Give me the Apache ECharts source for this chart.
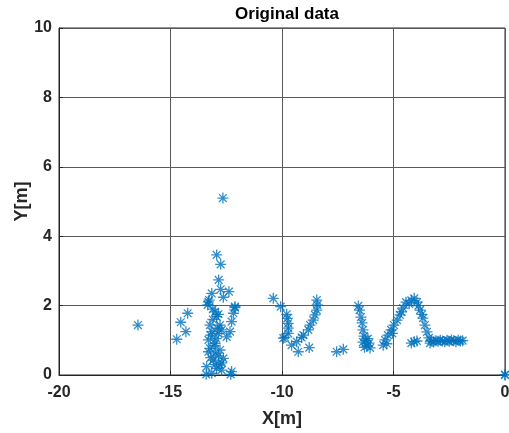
<!DOCTYPE html>
<html><head><meta charset="utf-8">
<script src="https://cdn.jsdelivr.net/npm/echarts@6/dist/echarts.min.js"></script>
<style>html,body{margin:0;padding:0;background:#fff}#c{width:509px;height:433px}</style>
</head><body><div id="c"></div>
<script>
const xTicks = [-20, -15, -10, -5, 0];
const yTicks = [0, 2, 4, 6, 8, 10];

const isolated = [[-16.46,1.44],[-12.65,5.10],[-14.23,1.78],[-14.54,1.52],[-14.31,1.25],[-14.72,1.03]];
const clusterUpper = [[-12.93,3.46],[-12.75,3.19],[-12.84,2.74],[-12.75,2.47],[-12.38,2.40],[-13.15,2.35],[-12.63,2.24],[-13.27,2.16],[-13.33,2.02],[-12.11,1.94]];
const clusterLower = [[-13.30,2.11],[-12.11,1.97],[-13.00,1.82],[-12.18,1.78],[-12.93,1.68],[-12.26,1.54],[-13.23,1.44],[-12.78,1.44],[-12.33,1.25],[-13.15,1.25],[-12.86,1.20],[-12.48,1.10],[-13.30,1.01],[-13.00,0.91],[-13.23,0.77],[-12.78,0.72],[-13.30,0.67],[-13.00,0.63],[-12.63,0.48],[-13.08,0.43],[-12.78,0.29],[-13.38,0.24],[-12.93,0.19],[-12.71,0.14],[-12.26,0.10],[-13.15,0.05],[-13.40,0.02],[-12.30,0.02],[-13.10,1.60],[-12.90,1.35],[-13.20,1.15],[-12.95,1.05],[-13.05,0.85],[-12.85,0.55],[-13.20,0.50],[-12.70,0.35],[-13.00,0.30],[-12.85,1.75],[-13.10,1.90],[-12.70,1.30]];
const clusterV = [[-10.39,2.21],[-10.06,1.97],[-9.79,1.75],[-9.76,1.63],[-9.72,1.49],[-9.72,1.35],[-9.72,1.20],[-9.87,1.08],[-9.94,1.06],[-9.57,0.86],[-9.27,0.67],[-8.78,0.79],[-9.34,0.96],[-9.12,1.08],[-9.04,1.15],[-8.82,1.30],[-8.74,1.44],[-8.60,1.58],[-8.52,1.73],[-8.44,1.87],[-8.42,2.02],[-8.44,2.16]];
const clusterStreak = [[-7.55,0.67],[-7.25,0.74],[-6.58,1.99],[-6.52,1.87],[-6.46,1.67],[-6.41,1.50],[-6.37,1.30],[-6.32,1.12],[-6.37,0.95],[-6.19,0.84],[-6.10,0.92],[-6.05,0.78],[-6.25,1.00],[-6.30,0.80],[-6.15,1.05],[-5.46,0.86]];
const clusterA = [[-5.38,1.01],[-5.25,1.15],[-5.11,1.30],[-4.98,1.44],[-4.84,1.58],[-4.71,1.73],[-4.57,1.93],[-4.44,2.10],[-4.20,2.15],[-4.07,2.21],[-3.95,2.10],[-3.81,1.87],[-3.68,1.64],[-3.59,1.44],[-3.50,1.24],[-3.41,1.07],[-3.36,0.92],[-4.07,0.96],[-4.20,0.92],[-3.95,0.98],[-5.30,0.90],[-5.05,1.20],[-4.65,1.82],[-4.30,2.05],[-3.88,2.00],[-3.72,1.75]];
const clusterTail = [[-3.30,0.98],[-3.20,0.96],[-3.10,0.99],[-3.00,0.97],[-2.90,1.00],[-2.80,0.98],[-2.70,0.96],[-2.60,1.00],[-2.50,0.97],[-2.40,1.01],[-2.30,0.99],[-2.20,0.96],[-2.10,1.00],[-2.00,0.98],[-1.90,0.99]];
const origin = [[0,0],[0,0.01]];

const allPts = [].concat(isolated, clusterUpper, clusterLower, clusterV, clusterStreak, clusterA, clusterTail, origin);

const star = 'path://M0,-10L0,10M-10,0L10,0M-7.07,-7.07L7.07,7.07M-7.07,7.07L7.07,-7.07';
const font = 'Liberation Sans, Arial, sans-serif';
const chart = echarts.init(document.getElementById('c'), null, {renderer:'canvas'});
chart.setOption({
  animation:false,
  backgroundColor:'#fff',
  title:{text:'Original data', left:282, top:1, textAlign:'center',
    textStyle:{fontFamily:font, fontWeight:'bold', fontSize:17, color:'#000'}},
  grid:{left:59, right:4, top:28, bottom:58, show:true, borderColor:'#262626', borderWidth:1,
    containLabel:false, outerBoundsMode:'none'},
  xAxis:{type:'value', min:-20, max:0, interval:5,
    name:'X[m]', nameLocation:'middle', nameGap:35, nameMoveOverlap:false,
    nameTextStyle:{fontFamily:font, fontWeight:'bold', fontSize:18, color:'#262626'},
    axisLine:{show:true, onZero:false, lineStyle:{color:'#262626'}},
    axisTick:{show:true, inside:true, length:4, lineStyle:{color:'#262626'}},
    axisLabel:{fontFamily:font, fontWeight:'bold', fontSize:16, color:'#262626', margin:10,
      formatter:v=> xTicks.includes(v)? String(v):''},
    splitLine:{show:true, lineStyle:{color:'#5a5a5a', width:1}}},
  yAxis:{type:'value', min:0, max:10, interval:2,
    name:'Y[m]', nameLocation:'middle', nameGap:28, nameMoveOverlap:false,
    nameTextStyle:{fontFamily:font, fontWeight:'bold', fontSize:18, color:'#262626'},
    axisLine:{show:true, onZero:false, lineStyle:{color:'#262626'}},
    axisTick:{show:true, inside:true, length:4, lineStyle:{color:'#262626'}},
    axisLabel:{fontFamily:font, fontWeight:'bold', fontSize:16, color:'#262626', margin:7,
      formatter:v=> yTicks.includes(v)? String(v):''},
    splitLine:{show:true, lineStyle:{color:'#5a5a5a', width:1}}},
  series:[{type:'scatter', data:allPts, symbol:star, symbolSize:11,
    itemStyle:{color:'rgba(0,114,189,0)', borderColor:'#0072BD', borderWidth:1.3},
    clip:false}]
});
</script></body></html>
